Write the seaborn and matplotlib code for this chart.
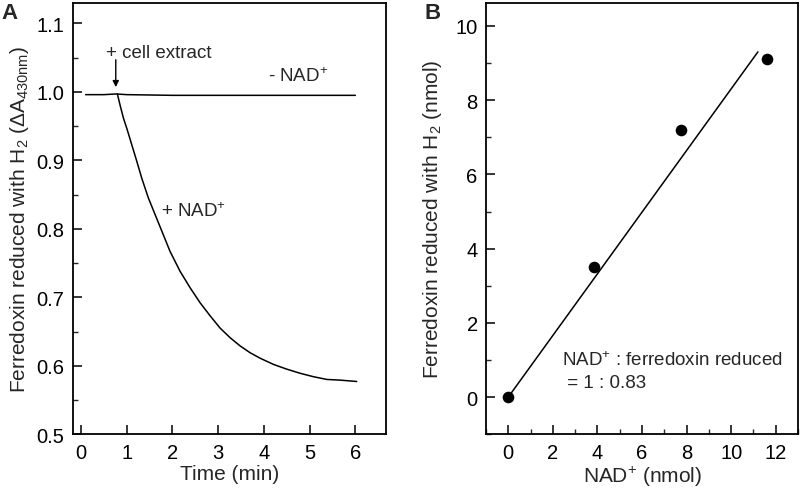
import matplotlib
matplotlib.use("Agg")
import matplotlib.pyplot as plt
from matplotlib.ticker import MultipleLocator, FormatStrFormatter
import seaborn as sns
import pandas as pd

# ---- Data: panel A (time course) ----
t_plus = [0.795, 0.853, 0.926, 1.000, 1.109, 1.218, 1.328, 1.473, 1.619, 1.765,
          1.947, 2.166, 2.385, 2.604, 2.823, 3.042, 3.260, 3.479, 3.698, 3.917,
          4.208, 4.501, 4.792, 5.083, 5.376, 5.667, 6.030]
a_plus = [0.997, 0.981, 0.962, 0.947, 0.923, 0.899, 0.874, 0.845, 0.821, 0.797,
          0.767, 0.738, 0.714, 0.692, 0.673, 0.655, 0.641, 0.629, 0.619, 0.611,
          0.602, 0.595, 0.589, 0.584, 0.580, 0.579, 0.577]
t_minus = [0.10, 0.50, 0.77, 1.00, 2.00, 3.00, 4.00, 5.00, 6.00]
a_minus = [0.996, 0.996, 0.997, 0.996, 0.995, 0.995, 0.995, 0.995, 0.995]

# ---- Data: panel B (stoichiometry) ----
nad_nmol = [0.0, 3.85, 7.75, 11.6]
fd_nmol = [0.0, 3.5, 7.2, 9.1]
fit_x = [0.0, 11.2]
fit_y = [0.0, 9.3]

xticks_a = [0, 1, 2, 3, 4, 5, 6]
yticks_a = [0.5, 0.6, 0.7, 0.8, 0.9, 1.0, 1.1]
xticks_b = [0, 2, 4, 6, 8, 10, 12]
yticks_b = [0, 2, 4, 6, 8, 10]

sns.set_theme(style="ticks")
plt.rcParams["font.family"] = ["Liberation Sans", "DejaVu Sans"]
plt.rcParams["mathtext.fontset"] = "custom"
plt.rcParams["mathtext.rm"] = "Liberation Sans"
plt.rcParams["mathtext.it"] = "Liberation Sans:italic"
plt.rcParams["mathtext.bf"] = "Liberation Sans:bold"

FS = 14.5
LFS = 15
AFS = 13.5

fig = plt.figure(figsize=(8.0, 4.89), dpi=100)
axA = fig.add_axes([0.091, 0.110, 0.3915, 0.882])
axB = fig.add_axes([0.6075, 0.110, 0.390, 0.882])

dfA_plus = pd.DataFrame({"t": t_plus, "a": a_plus})
dfA_minus = pd.DataFrame({"t": t_minus, "a": a_minus})
sns.lineplot(data=dfA_plus, x="t", y="a", ax=axA, color="black", lw=1.1, sort=False)
sns.lineplot(data=dfA_minus, x="t", y="a", ax=axA, color="black", lw=1.1, sort=False)

axA.set_xlim(-0.18, 6.67)
axA.set_ylim(0.5, 1.13)
axA.set_xticks(xticks_a)
axA.set_yticks(yticks_a)
axA.yaxis.set_minor_locator(MultipleLocator(0.05))
axA.yaxis.set_major_formatter(FormatStrFormatter("%.1f"))
axA.set_xlabel("Time (min)", fontsize=LFS, labelpad=2)
axA.set_ylabel(r"Ferredoxin reduced with H$_2$ ($\Delta$A$_{430\mathrm{nm}}$)", fontsize=LFS, labelpad=4)

axA.annotate("", xy=(0.76, 1.007), xytext=(0.76, 1.047),
             arrowprops=dict(arrowstyle="-|>", color="black", lw=1.0,
                             mutation_scale=9, shrinkA=0, shrinkB=0))
axA.text(1.69, 1.058, "+ cell extract", fontsize=AFS, ha="center", va="center")
axA.text(4.75, 1.024, r"- NAD$^{+}$", fontsize=AFS, ha="center", va="center")
axA.text(2.47, 0.827, r"+ NAD$^{+}$", fontsize=AFS, ha="center", va="center")

dfB = pd.DataFrame({"nad": nad_nmol, "fd": fd_nmol})
dfFit = pd.DataFrame({"x": fit_x, "y": fit_y})
sns.lineplot(data=dfFit, x="x", y="y", ax=axB, color="black", lw=1.1)
sns.scatterplot(data=dfB, x="nad", y="fd", ax=axB, color="black", s=70,
                edgecolor="black", linewidth=0, zorder=5)

axB.set_xlim(-1.0, 13.0)
axB.set_ylim(-1.0, 10.62)
axB.set_xticks(xticks_b)
axB.set_yticks(yticks_b)
axB.xaxis.set_minor_locator(MultipleLocator(1))
axB.yaxis.set_minor_locator(MultipleLocator(1))
axB.set_xlabel(r"NAD$^{+}$ (nmol)", fontsize=LFS, labelpad=2)
axB.set_ylabel(r"Ferredoxin reduced with H$_2$ (nmol)", fontsize=LFS, labelpad=8)
axB.text(2.4, 1.02, r"NAD$^{+}$ : ferredoxin reduced", fontsize=AFS, ha="left", va="center")
axB.text(2.4, 0.38, r" = 1 : 0.83", fontsize=AFS, ha="left", va="center")

for ax in (axA, axB):
    for s in ax.spines.values():
        s.set_linewidth(1.3)
        s.set_color("black")
    ax.tick_params(which="major", direction="in", length=6.5, width=1.1,
                   labelsize=FS, pad=6, top=False, right=False, colors="black")
    ax.tick_params(which="minor", direction="in", length=3.5, width=1.0,
                   top=False, right=False)
    ax.set_facecolor("white")

fig.text(0.002, 0.972, "A", fontsize=16, fontweight="bold", ha="left", va="center")
fig.text(0.530, 0.972, "B", fontsize=16, fontweight="bold", ha="left", va="center")

fig.savefig("out.png", dpi=100, facecolor="white")
